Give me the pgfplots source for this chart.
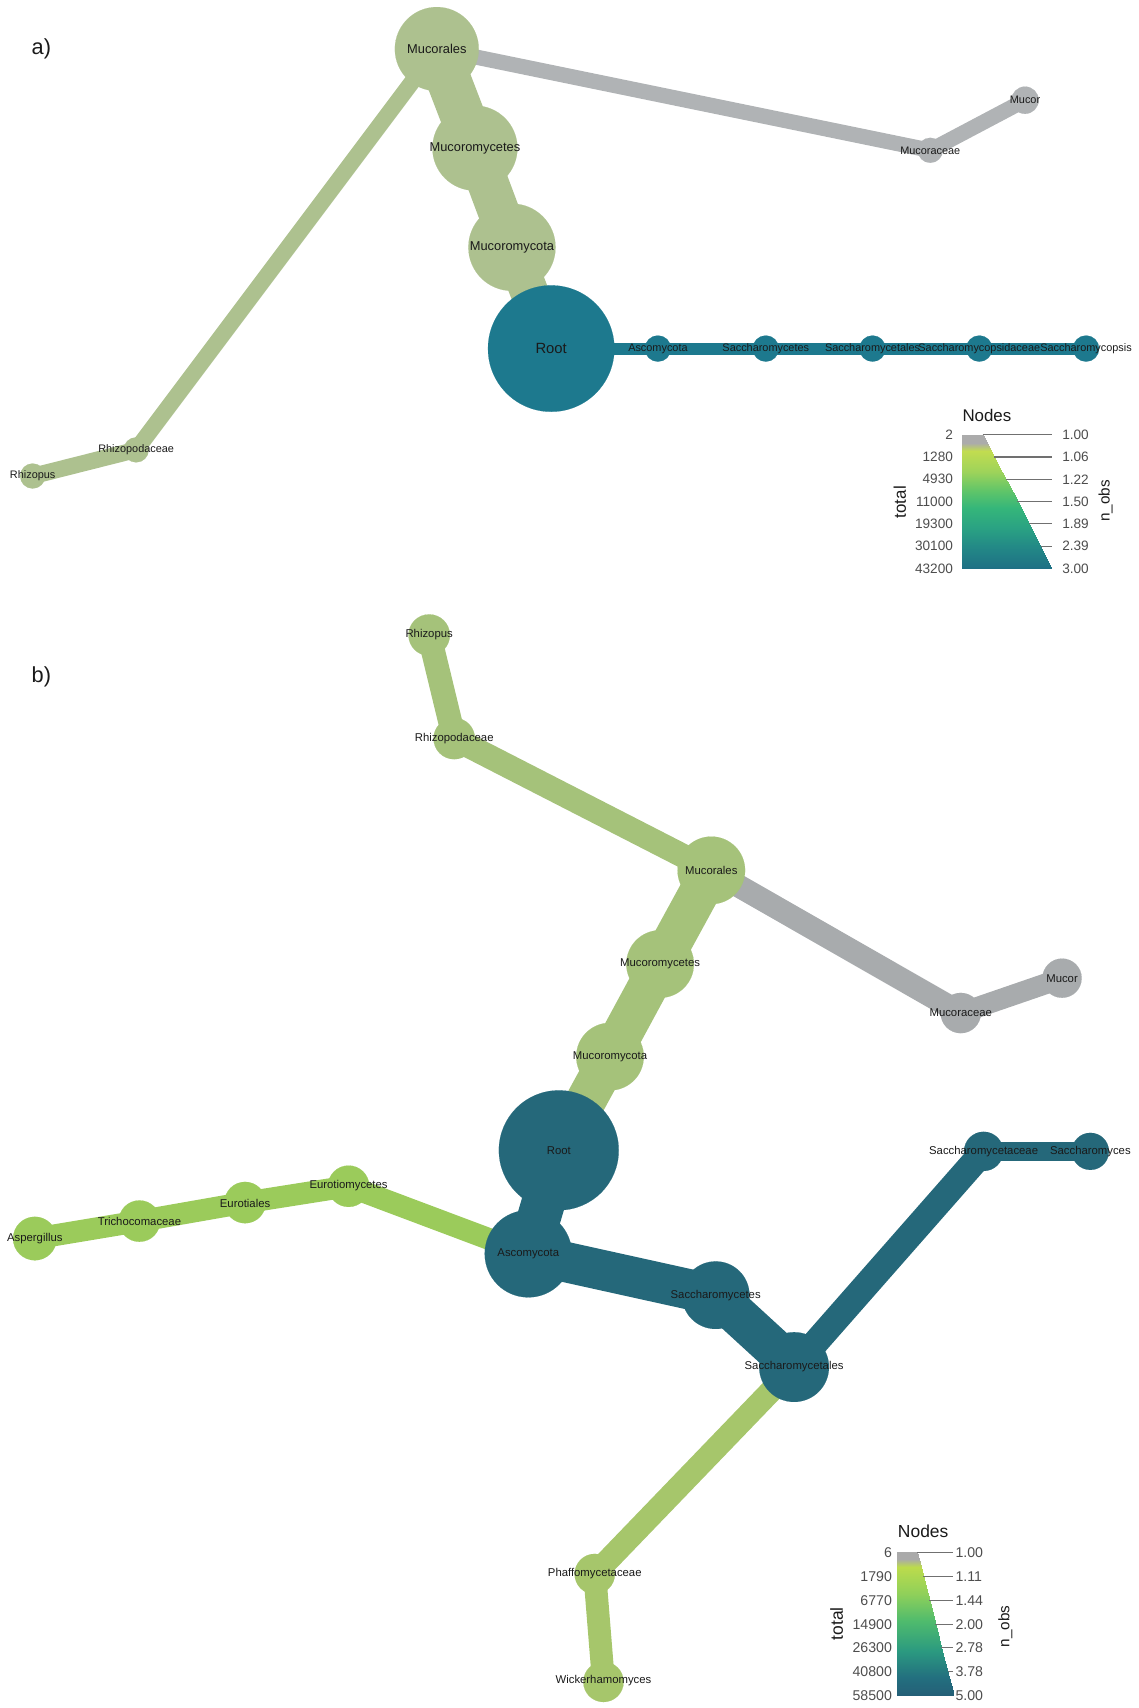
\documentclass[border=0pt]{standalone}
\usepackage{pgfplots}
\pgfplotsset{compat=1.18}
\usepackage{fontspec}
\setmainfont{Liberation Sans}
\setsansfont{Liberation Sans}
\newcommand{\fs}[1]{\fontsize{#1}{#1}\selectfont}
\definecolor{sageA}{HTML}{ADC18F}
\definecolor{tealA}{HTML}{1D798E}
\definecolor{grayA}{HTML}{B0B3B5}
\definecolor{sageB}{HTML}{A5C27A}
\definecolor{tealB}{HTML}{25687A}
\definecolor{euroB}{HTML}{9BCB5B}
\definecolor{phafB}{HTML}{A6C66B}
\definecolor{grayB}{HTML}{A8ABAD}
\definecolor{labc}{HTML}{1A1A1A}
\definecolor{legc}{HTML}{4D4D4D}
\definecolor{tickc}{HTML}{707070}
\pgfplotsset{
  colormap={legA}{rgb255(0pt)=(171,171,171) rgb255(6pt)=(171,171,171) rgb255(12pt)=(194,220,80) rgb255(28pt)=(157,211,90) rgb255(43pt)=(92,196,106) rgb255(55pt)=(53,182,122) rgb255(70pt)=(42,162,131) rgb255(83pt)=(35,138,134) rgb255(100pt)=(30,111,133)},
  colormap={legB}{rgb255(0pt)=(170,170,170) rgb255(5pt)=(170,170,170) rgb255(10pt)=(188,219,76) rgb255(29pt)=(143,208,90) rgb255(48pt)=(79,187,109) rgb255(69pt)=(43,154,128) rgb255(87pt)=(35,112,127) rgb255(100pt)=(36,95,119)},
  nodecircle/.style={scatter, only marks, mark=*,
    mark options={draw=#1, fill=#1, line width=0.1pt},
    scatter/use mapped color={draw=#1, fill=#1},
    visualization depends on={\thisrow{r} \as \rr},
    scatter/@pre marker code/.append style={/tikz/mark size=\rr pt}},
  labs/.style={draw=none, mark=none, nodes near coords, point meta=explicit symbolic,
    nodes near coords style={anchor=center, inner sep=0pt, text=labc, font=\fs{#1}}},
}
\begin{document}
\begin{tikzpicture}
\begin{axis}[name=ax, at={(0,0)}, anchor=south west,
  width=1045pt, height=1568pt, scale only axis,
  xmin=0, xmax=1045, ymin=0, ymax=1568, y dir=reverse,
  hide axis, clip=false, point meta min=0, point meta max=100]

% ---------------- panel a: edges ----------------
\addplot[draw=sageA, line width=15pt, line join=round] coordinates {(401,45) (125,413) (30,437)};
\addplot[draw=grayA, line width=14pt, line join=round] coordinates {(401,45) (854,138) (941,92)};
\addplot[draw=tealA, line width=11pt] coordinates {(506,320) (604,320) (703,320) (801,320) (899,320) (997,320)};
\addplot[draw=sageA, line width=41pt] coordinates {(401,45) (436,136)};
\addplot[draw=sageA, line width=38pt] coordinates {(436,136) (470,227)};
\addplot[draw=sageA, line width=35pt] coordinates {(470,227) (506,320)};

% ---------------- panel b: edges ----------------
\addplot[draw=sageB, line width=22pt, line join=round] coordinates {(394,583) (417,678) (653,799)};
\addplot[draw=grayB, line width=21pt, line join=round] coordinates {(653,799) (882,930)};
\addplot[draw=grayB, line width=19pt, line join=round] coordinates {(882,930) (975,898)};
\addplot[draw=sageB, line width=37pt, line join=round] coordinates {(653,799) (606,885) (560,970) (513,1056)};
\addplot[draw=euroB, line width=20pt, line join=round] coordinates {(485,1151) (320,1089) (225,1104) (128,1121) (32,1137)};
\addplot[draw=phafB, line width=21pt, line join=round] coordinates {(729,1255) (546,1445) (554,1544)};
\addplot[draw=tealB, line width=40pt] coordinates {(513,1056) (485,1151)};
\addplot[draw=tealB, line width=37pt, line join=round] coordinates {(485,1151) (657,1189) (729,1255)};
\addplot[draw=tealB, line width=24pt, line join=round] coordinates {(729,1255) (903,1057)};
\addplot[draw=tealB, line width=18pt] coordinates {(903,1057) (1001,1057)};

% ---------------- panel a: nodes ----------------
\addplot[nodecircle=sageA] table {
x y r
401 45 38.5
436 136 39
470 227 40
125 413 11.5
30 437 11.5
};
\addplot[nodecircle=tealA] table {
x y r
506 320 58
604 320 12
703 320 12
801 320 12
899 320 12
997 320 12
};
\addplot[nodecircle=grayA] table {
x y r
854 138 11.5
941 92 12.5
};

% ---------------- panel b: nodes ----------------
\addplot[nodecircle=sageB] table {
x y r
394 583 19
417 678 19
653 799 31
606 885 31
560 970 31
};
\addplot[nodecircle=tealB] table {
x y r
513 1056 55
485 1151 40
657 1189 31
729 1255 32
903 1057 18
1001 1057 17
};
\addplot[nodecircle=euroB] table {
x y r
320 1089 19
225 1104 19
128 1121 19
32 1137 20
};
\addplot[nodecircle=phafB] table {
x y r
546 1445 18.5
554 1544 18.5
};
\addplot[nodecircle=grayB] table {
x y r
882 930 18.5
975 898 18
};

% ---------------- labels ----------------
\addplot[labs=13.6] table[meta=n] {
x y n
506 320 Root
};
\addplot[labs=11.8] table[meta=n] {
x y n
401 45 Mucorales
436 136 Mucoromycetes
470 227 Mucoromycota
};
\addplot[labs=10] table[meta=n] {
x y n
604 320 Ascomycota
703 320 Saccharomycetes
801 320 Saccharomycetales
899 320 Saccharomycopsidaceae
997 320 Saccharomycopsis
854 138 Mucoraceae
941 92 Mucor
125 413 Rhizopodaceae
30 437 Rhizopus
};
\addplot[labs=10.4] table[meta=n] {
x y n
394 583 Rhizopus
417 678 Rhizopodaceae
653 799 Mucorales
606 885 Mucoromycetes
560 970 Mucoromycota
513 1056 Root
485 1151 Ascomycota
657 1189 Saccharomycetes
729 1255 Saccharomycetales
903 1057 Saccharomycetaceae
1001 1057 Saccharomyces
320 1088 Eurotiomycetes
225 1105 Eurotiales
128 1121 Trichocomaceae
32 1137 Aspergillus
546 1445 Phaffomycetaceae
554 1543 Wickerhamomyces
882 930 Mucoraceae
975 898 Mucor
};

% ---------------- legend a ----------------
\addplot[patch, patch type=rectangle, shader=interp, colormap name=legA, point meta=explicit] coordinates {
(883,399) [0] (902,399) [0] (905.8,406.4) [6] (883,406.4) [6]
(883,406.4) [6] (905.8,406.4) [6] (909.7,413.8) [12] (883,413.8) [12]
(883,413.8) [12] (909.7,413.8) [12] (919.9,433.4) [28] (883,433.4) [28]
(883,433.4) [28] (919.9,433.4) [28] (929.5,451.9) [43] (883,451.9) [43]
(883,451.9) [43] (929.5,451.9) [43] (937.2,466.7) [55] (883,466.7) [55]
(883,466.7) [55] (937.2,466.7) [55] (946.8,485.1) [70] (883,485.1) [70]
(883,485.1) [70] (946.8,485.1) [70] (955.1,501.1) [83] (883,501.1) [83]
(883,501.1) [83] (955.1,501.1) [83] (966,522) [100] (883,522) [100]
};
\addplot[draw=tickc, line width=1pt, unbounded coords=jump] table {
x y
902 399
966 399
nan nan
912.7 419.5
966 419.5
nan nan
923.3 440
966 440
nan nan
934.0 460.5
966 460.5
nan nan
944.7 481
966 481
nan nan
955.3 501.5
966 501.5
};
\addplot[draw=none, mark=none, nodes near coords, point meta=explicit symbolic,
  nodes near coords style={anchor=east, inner sep=0pt, text=legc, font=\fs{12.5}}] table[meta=n] {
x y n
875 399 2
875 419.5 1280
875 440 4930
875 460.5 11000
875 481 19300
875 501.5 30100
875 522 43200
};
\addplot[draw=none, mark=none, nodes near coords, point meta=explicit symbolic,
  nodes near coords style={anchor=west, inner sep=0pt, text=legc, font=\fs{12.5}}] table[meta=n] {
x y n
975 399 1.00
975 419.5 1.06
975 440 1.22
975 460.5 1.50
975 481 1.89
975 501.5 2.39
975 522 3.00
};

% ---------------- legend b ----------------
\addplot[patch, patch type=rectangle, shader=interp, colormap name=legB, point meta=explicit] coordinates {
(823.5,1425) [0] (842,1425) [0] (843.7,1431.6) [5] (823.5,1431.6) [5]
(823.5,1431.6) [5] (843.7,1431.6) [5] (845.4,1438.2) [10] (823.5,1438.2) [10]
(823.5,1438.2) [10] (845.4,1438.2) [10] (851.7,1463.1) [29] (823.5,1463.1) [29]
(823.5,1463.1) [29] (851.7,1463.1) [29] (858.1,1488.1) [48] (823.5,1488.1) [48]
(823.5,1488.1) [48] (858.1,1488.1) [48] (865.1,1515.7) [69] (823.5,1515.7) [69]
(823.5,1515.7) [69] (865.1,1515.7) [69] (871.1,1539.4) [87] (823.5,1539.4) [87]
(823.5,1539.4) [87] (871.1,1539.4) [87] (875.5,1556.5) [100] (823.5,1556.5) [100]
};
\addplot[draw=tickc, line width=1pt, unbounded coords=jump] table {
x y
842 1425
875 1425
nan nan
847.6 1447
875 1447
nan nan
853.2 1469
875 1469
nan nan
858.8 1491
875 1491
nan nan
864.3 1512.5
875 1512.5
nan nan
869.9 1534.5
875 1534.5
};
\addplot[draw=none, mark=none, nodes near coords, point meta=explicit symbolic,
  nodes near coords style={anchor=east, inner sep=0pt, text=legc, font=\fs{13}}] table[meta=n] {
x y n
819 1425 6
819 1447 1790
819 1469 6770
819 1491 14900
819 1512.5 26300
819 1534.5 40800
819 1556.5 58500
};
\addplot[draw=none, mark=none, nodes near coords, point meta=explicit symbolic,
  nodes near coords style={anchor=west, inner sep=0pt, text=legc, font=\fs{13}}] table[meta=n] {
x y n
877 1425 1.00
877 1447 1.11
877 1469 1.44
877 1491 2.00
877 1512.5 2.78
877 1534.5 3.78
877 1556.5 5.00
};

% ---------------- titles ----------------
\node[text=labc, font=\fs{20}] at (axis cs:38,45) {a)};
\node[text=labc, font=\fs{20}] at (axis cs:38,621) {b)};
\node[text=labc, font=\fs{15.5}] at (axis cs:906,381) {Nodes};
\node[text=labc, font=\fs{16}] at (axis cs:847.5,1405.5) {Nodes};
\node[text=labc, font=\fs{15.5}, rotate=90] at (axis cs:826,461) {total};
\node[text=labc, font=\fs{16}, rotate=90] at (axis cs:768,1490.5) {total};
\node[text=labc, font=\fs{14}, rotate=90] at (axis cs:1015,460) {n\_obs};
\node[text=labc, font=\fs{14}, rotate=90] at (axis cs:923,1493) {n\_obs};
\end{axis}
\pgfresetboundingbox
\path[use as bounding box] (ax.south west) rectangle (ax.north east);
\end{tikzpicture}
\end{document}
